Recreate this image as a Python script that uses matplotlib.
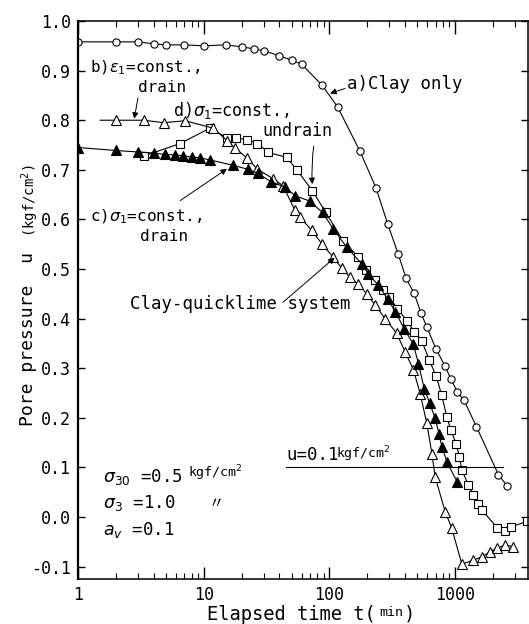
import matplotlib.pyplot as plt
import matplotlib.ticker as ticker

plt.rcParams['font.family'] = 'DejaVu Sans Mono'
plt.rcParams['mathtext.fontset'] = 'dejavusans'
plt.rcParams['axes.unicode_minus'] = False

# a) clay only
t_a = [1, 2, 3, 4, 5, 7, 10, 15, 20, 25, 30, 40, 50, 60, 87, 116, 175, 234, 291,
       351, 407, 471, 535, 594, 705, 831, 923, 1042, 1177, 1475, 2207, 2602]
u_a = [0.958, 0.958, 0.958, 0.954, 0.952, 0.952, 0.950, 0.952, 0.948, 0.944, 0.940,
       0.930, 0.921, 0.913, 0.871, 0.827, 0.737, 0.664, 0.590, 0.531, 0.481, 0.451,
       0.411, 0.383, 0.338, 0.304, 0.278, 0.252, 0.235, 0.182, 0.085, 0.062]

# b) eps1 = const., drain
t_b = [1.5, 2, 3.35, 4.8, 7.1, 11.9, 15.3, 17.7, 22.1, 26.5, 35.6, 42.7, 53.2, 58.4,
       72.3, 86.9, 107, 125, 146, 170, 198, 231, 277, 343, 399, 465, 526, 594, 652,
       692, 831, 940, 1128, 1396, 1629, 1896, 2143, 2494, 2904]
u_b = [0.80, 0.80, 0.80, 0.795, 0.799, 0.784, 0.759, 0.744, 0.724, 0.702, 0.682,
       0.668, 0.618, 0.604, 0.578, 0.551, 0.524, 0.502, 0.483, 0.469, 0.450, 0.427,
       0.400, 0.370, 0.333, 0.297, 0.249, 0.189, 0.128, 0.081, 0.011, -0.023, -0.095,
       -0.087, -0.080, -0.070, -0.063, -0.056, -0.060]

# c) sigma1 = const., drain
t_c = [1, 2, 3, 4, 4.9, 5.9, 6.9, 8, 9.4, 11.2, 17.2, 22.5, 26.8, 34.3, 44.3, 53.2,
       69.5, 88, 107, 137, 181, 204, 245, 290, 333, 392, 465, 510, 566, 628, 692,
       745, 782, 863, 1035]
u_c = [0.745, 0.739, 0.736, 0.734, 0.731, 0.730, 0.728, 0.726, 0.724, 0.720, 0.709,
       0.701, 0.693, 0.676, 0.665, 0.648, 0.637, 0.614, 0.581, 0.544, 0.510, 0.490,
       0.467, 0.440, 0.414, 0.380, 0.348, 0.309, 0.259, 0.229, 0.199, 0.167, 0.142,
       0.110, 0.071]

# d) sigma1 = const., undrain
t_d = [3.35, 6.5, 11.2, 15.2, 18.1, 22.1, 26.7, 32.7, 45.7, 55, 73, 93.5, 128, 170,
       196, 231, 264, 300, 347, 412, 471, 542, 623, 705, 782, 857, 923, 1016, 1080,
       1128, 1274, 1396, 1530, 1629, 2167, 2494, 2768, 3713]
u_d = [0.728, 0.753, 0.784, 0.765, 0.764, 0.761, 0.753, 0.735, 0.725, 0.700, 0.658,
       0.614, 0.557, 0.524, 0.498, 0.478, 0.457, 0.443, 0.420, 0.396, 0.374, 0.355,
       0.316, 0.284, 0.245, 0.202, 0.175, 0.148, 0.121, 0.095, 0.064, 0.044, 0.027,
       0.014, -0.022, -0.029, -0.020, -0.009]

x_ticks = [1, 10, 100, 1000]
x_tick_labels = ['1', '10', '100', '1000']
y_ticks = [-0.1, 0.0, 0.1, 0.2, 0.3, 0.4, 0.5, 0.6, 0.7, 0.8, 0.9, 1.0]

u_ref = 0.1
u_ref_t = [45, 2400]

fig = plt.figure(figsize=(5.29, 6.24), dpi=100)
ax = fig.add_axes([0.1474, 0.0721, 0.851, 0.8942])

ax.plot(t_a, u_a, '-o', color='k', lw=0.8, ms=5.2, mfc='white', mec='k', mew=0.8)
ax.plot(t_d, u_d, '-s', color='k', lw=0.8, ms=6, mfc='white', mec='k', mew=0.8)
ax.plot(t_b, u_b, '-^', color='k', lw=0.8, ms=7, mfc='white', mec='k', mew=0.8,
        markevery=list(range(1, len(t_b))))
ax.plot(t_c, u_c, '-^', color='k', lw=0.8, ms=7, mfc='k', mec='k', mew=0.8)

ax.plot(u_ref_t, [u_ref, u_ref], color='k', lw=0.8)
ax.text(45, 0.106, 'u=0.1', fontsize=12.5, va='bottom', ha='left')
ax.text(112, 0.106, 'kgf/cm$^2$', fontsize=9.5, va='bottom', ha='left')

ax.set_xscale('log')
ax.set_xlim(1, 3800)
ax.set_ylim(-0.125, 1.0)
ax.set_xticks(x_ticks)
ax.set_xticklabels(x_tick_labels)
ax.xaxis.set_minor_locator(ticker.LogLocator(base=10, subs=range(2, 10)))
ax.xaxis.set_minor_formatter(ticker.NullFormatter())
ax.set_yticks(y_ticks)
ax.set_yticklabels([f'{v:.1f}' for v in y_ticks])
ax.tick_params(which='both', direction='in', top=True, right=True, labelsize=12)
ax.tick_params(axis='x', which='major', length=9, width=1, pad=5)
ax.tick_params(axis='x', which='minor', length=4, width=0.8)
ax.tick_params(axis='y', which='major', length=5, width=1, pad=5)
for s in ax.spines.values():
    s.set_linewidth(1.1)
ax.spines['left'].set_linewidth(1.6)

arrow = dict(arrowstyle='-|>', color='k', lw=0.7, mutation_scale=9, shrinkA=0, shrinkB=0)

# labels of the curves
ax.text(138, 0.873, 'a)Clay only', fontsize=12.5, va='center')
ax.annotate('', xy=(101, 0.854), xytext=(133, 0.864), arrowprops=arrow)

ax.text(1.25, 0.906, r'b)$\varepsilon_1$=const.,', fontsize=11.5, va='center')
ax.text(3.0, 0.866, 'drain', fontsize=11.5, va='center')
ax.annotate('', xy=(2.8, 0.803), xytext=(3.0, 0.845), arrowprops=arrow)

ax.text(5.7, 0.819, r'd)$\sigma_1$=const.,', fontsize=12, va='center')
ax.text(29, 0.779, 'undrain', fontsize=12, va='center')
ax.annotate('', xy=(73, 0.671), xytext=(75, 0.748),
            arrowprops=dict(arrow, connectionstyle='arc3,rad=0.05'))

ax.text(1.25, 0.605, r'c)$\sigma_1$=const.,', fontsize=11.5, va='center')
ax.text(3.1, 0.565, 'drain', fontsize=11.5, va='center')
ax.annotate('', xy=(15.3, 0.702), xytext=(6.5, 0.638), arrowprops=arrow)

ax.text(2.6, 0.43, 'Clay-quicklime system', fontsize=12.5, va='center')
ax.annotate('', xy=(110, 0.523), xytext=(42.7, 0.433), arrowprops=arrow)

# test conditions
ax.text(0.056, 0.183, r'$\sigma_{30}$ =0.5', transform=ax.transAxes, fontsize=12.5, va='center')
ax.text(0.245, 0.19, 'kgf/cm$^2$', transform=ax.transAxes, fontsize=9.5, va='center')
ax.text(0.056, 0.136, r'$\sigma_3$ =1.0', transform=ax.transAxes, fontsize=12.5, va='center')
ax.text(0.29, 0.136, '\u3003', transform=ax.transAxes, fontsize=11, va='center',
        family=['Noto Sans CJK JP', 'DejaVu Sans'])
ax.text(0.056, 0.088, r'$a_v$ =0.1', transform=ax.transAxes, fontsize=12.5, va='center')

# axis titles
fig.text(0.053, 0.457, 'Pore pressure  u', rotation=90, fontsize=13, ha='center', va='center')
fig.text(0.058, 0.678, '(kgf/cm$^2$)', rotation=90, fontsize=10, ha='center', va='center')
fig.text(0.391, 0.016, 'Elapsed time t(', fontsize=13.5, ha='left', va='center')
fig.text(0.716, 0.018, 'min', fontsize=9.5, ha='left', va='center')
fig.text(0.763, 0.016, ')', fontsize=13.5, ha='left', va='center')

fig.savefig('out.png', dpi=100)
